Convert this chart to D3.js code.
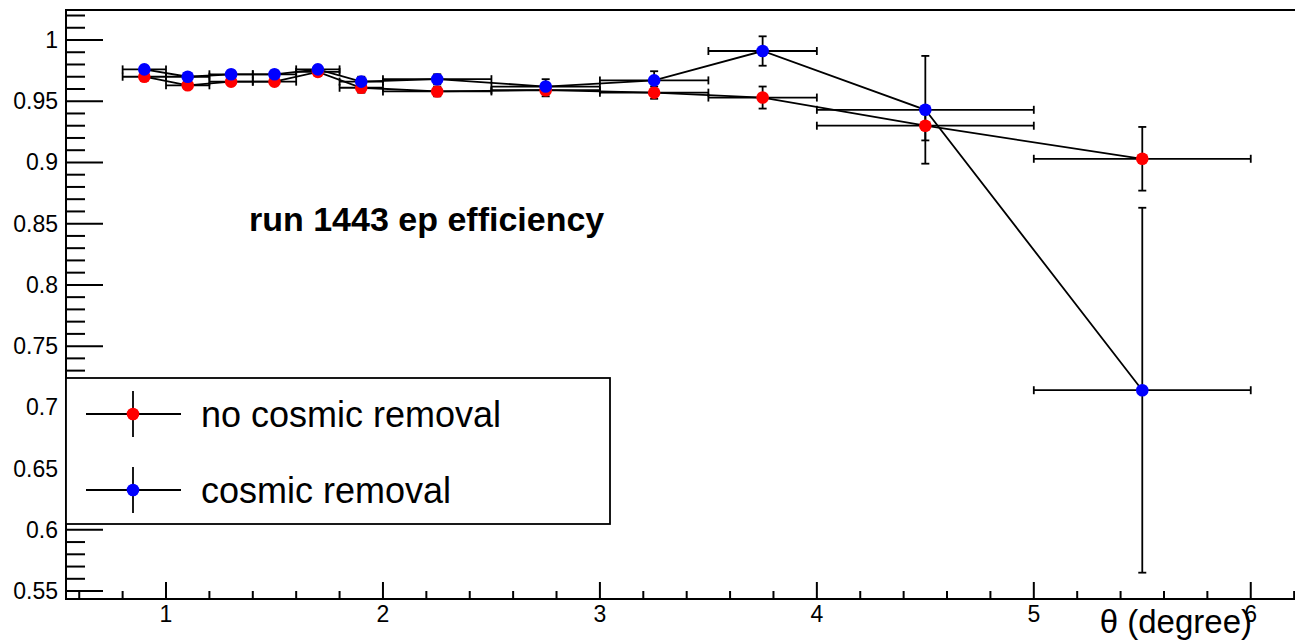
<!DOCTYPE html>
<html><head><meta charset="utf-8">
<script src="https://cdn.jsdelivr.net/npm/d3@7"></script>
<style>body{margin:0;background:#fff}svg{display:block}text{font-family:"Liberation Sans",Arial,sans-serif}</style>
</head><body><div id="c"></div>
<script>
const xCenters = [0.9,1.1,1.3,1.5,1.7,1.9,2.25,2.75,3.25,3.75,4.5,5.5];
const xHalfWidth = [0.1,0.1,0.1,0.1,0.1,0.1,0.25,0.25,0.25,0.25,0.5,0.5];
const noCosmic = [0.970,0.963,0.966,0.966,0.974,0.961,0.958,0.959,0.957,0.953,0.930,0.903];
const noCosmicErr = [0.003,0.003,0.003,0.003,0.003,0.004,0.004,0.005,0.005,0.009,0.012,0.026];
const cosmic = [0.976,0.970,0.972,0.972,0.976,0.966,0.968,0.962,0.967,0.991,0.943,0.714];
const cosmicErr = [0.003,0.003,0.003,0.003,0.003,0.004,0.004,0.006,0.0075,0.012,0.044,0.149];
const xTicks = [1,2,3,4,5,6];
const yTicks = [0.55,0.6,0.65,0.7,0.75,0.8,0.85,0.9,0.95,1];
const seriesNames = ["no cosmic removal","cosmic removal"];
const seriesColors = ["#ff0000","#0000ff"];

const W=1295,H=644;
const L=66,T=10,R=1300,B=599;
const x=d3.scaleLinear().domain([0.539,6.227]).range([L,R]);
const y=d3.scaleLinear().domain([0.5435,1.0245]).range([B,T]);
const svg=d3.select("#c").append("svg").attr("width",W).attr("height",H);

// frame
svg.append("rect").attr("x",L).attr("y",T).attr("width",R-L).attr("height",B-T)
  .attr("fill","none").attr("stroke","#000").attr("stroke-width",2);

// y ticks
const yMinor=d3.range(55,103).map(v=>v/100).filter(v=>v<=1.0245);
svg.append("g").selectAll("line").data(yMinor).join("line")
  .attr("x1",L).attr("x2",d=>Math.abs(d*20-Math.round(d*20))<1e-6?L+37:L+19)
  .attr("y1",d=>y(d)).attr("y2",d=>y(d)).attr("stroke","#000").attr("stroke-width",2);
svg.append("g").selectAll("text").data(yTicks).join("text")
  .attr("x",58).attr("y",d=>y(d)+8).attr("text-anchor","end").attr("font-size",23)
  .text(d=>d3.format("")(d));

// x ticks
const xMinor=d3.range(6,63,2).map(v=>v/10).filter(v=>v>=0.54&&v<=6.22);
svg.append("g").selectAll("line").data(xMinor).join("line")
  .attr("x1",d=>x(d)).attr("x2",d=>x(d))
  .attr("y1",B).attr("y2",d=>Math.abs(d-Math.round(d))<1e-6?B-17:B-8)
  .attr("stroke","#000").attr("stroke-width",2);
svg.append("g").selectAll("text").data(xTicks).join("text")
  .attr("x",d=>x(d)).attr("y",622).attr("text-anchor","middle").attr("font-size",23)
  .text(d=>d);
svg.append("text").attr("x",1252).attr("y",633).attr("text-anchor","end").attr("font-size",33).text("θ (degree)");

// title
svg.append("text").attr("x",249).attr("y",231).attr("font-size",34).attr("font-weight","bold").text("run 1443 ep efficiency");

// series
const series=[noCosmic,cosmic].map((vals,i)=>({name:seriesNames[i],color:seriesColors[i],
  pts:vals.map((v,j)=>({x:xCenters[j],dx:xHalfWidth[j],y:v,dy:[noCosmicErr,cosmicErr][i][j]}))}));
const line=d3.line().x(d=>x(d.x)).y(d=>y(d.y));
series.forEach(s=>{
  const g=svg.append("g");
  g.append("path").attr("d",line(s.pts)).attr("fill","none").attr("stroke","#000").attr("stroke-width",1.8);
  s.pts.forEach(p=>{
    const cx=x(p.x),cy=y(p.y);
    g.append("line").attr("x1",x(p.x-p.dx)).attr("x2",x(p.x+p.dx)).attr("y1",cy).attr("y2",cy).attr("stroke","#000").attr("stroke-width",1.8);
    [p.x-p.dx,p.x+p.dx].forEach(e=>g.append("line").attr("x1",x(e)).attr("x2",x(e)).attr("y1",cy-4).attr("y2",cy+4).attr("stroke","#000").attr("stroke-width",1.8));
    g.append("line").attr("x1",cx).attr("x2",cx).attr("y1",y(p.y-p.dy)).attr("y2",y(p.y+p.dy)).attr("stroke","#000").attr("stroke-width",1.8);
    [p.y-p.dy,p.y+p.dy].forEach(e=>g.append("line").attr("x1",cx-4).attr("x2",cx+4).attr("y1",y(e)).attr("y2",y(e)).attr("stroke","#000").attr("stroke-width",1.8));
  });
});
series.forEach(s=>{
  svg.append("g").selectAll("circle").data(s.pts).join("circle")
    .attr("cx",d=>x(d.x)).attr("cy",d=>y(d.y)).attr("r",6.3).attr("fill",s.color);
});

// legend
svg.append("rect").attr("x",L).attr("y",378).attr("width",610-L).attr("height",146)
  .attr("fill","#fff").attr("stroke","#000").attr("stroke-width",1.8);
series.forEach((s,i)=>{
  const cy=414+i*76;
  svg.append("line").attr("x1",86).attr("x2",181).attr("y1",cy).attr("y2",cy).attr("stroke","#000").attr("stroke-width",1.8);
  svg.append("line").attr("x1",133).attr("x2",133).attr("y1",cy-23).attr("y2",cy+23).attr("stroke","#000").attr("stroke-width",1.8);
  svg.append("circle").attr("cx",133).attr("cy",cy).attr("r",6.3).attr("fill",s.color);
  svg.append("text").attr("x",201).attr("y",cy+13).attr("font-size",36).text(s.name);
});
</script></body></html>
